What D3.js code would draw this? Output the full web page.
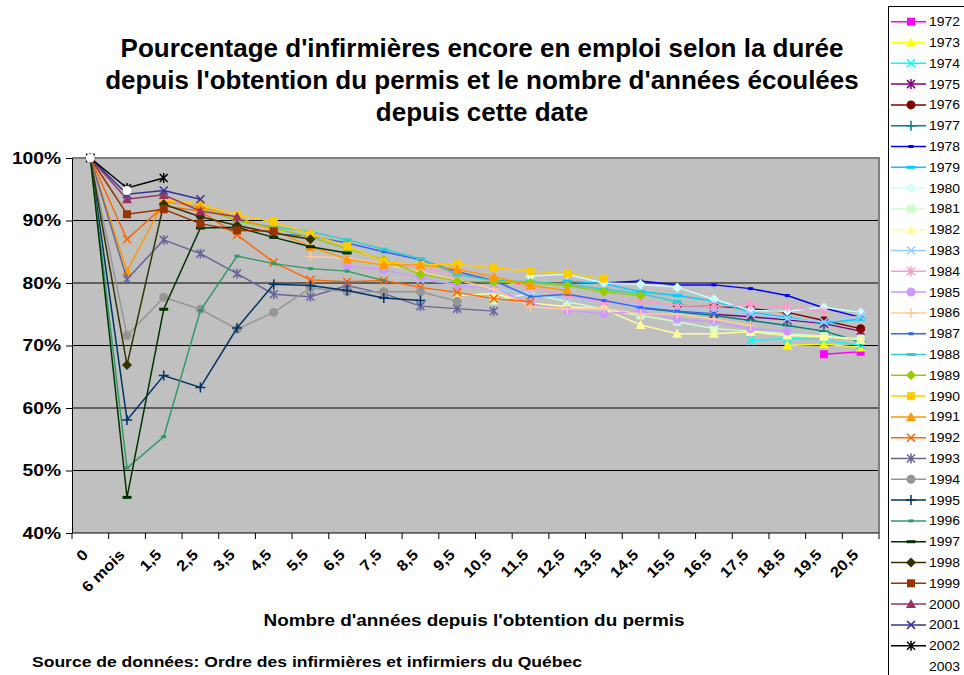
<!DOCTYPE html>
<html>
<head>
<meta charset="UTF-8">
<title>Infirmières encore en emploi</title>
<script src="https://d3js.org/d3.v7.min.js"></script>
<style>
body { margin: 0; background: #fff; }
svg { font-family: "Liberation Sans", Arial, sans-serif; }
</style>
</head>
<body>
<svg width="964" height="675"></svg>
<script>
// categories on the x axis
var categories = ["0", "6 mois", "1,5", "2,5", "3,5", "4,5", "5,5", "6,5", "7,5", "8,5", "9,5",
  "10,5", "11,5", "12,5", "13,5", "14,5", "15,5", "16,5", "17,5", "18,5", "19,5", "20,5"];
var yTicks = [40, 50, 60, 70, 80, 90, 100];

var years = [1972, 1973, 1974, 1975, 1976, 1977, 1978, 1979, 1980, 1981, 1982, 1983, 1984, 1985, 1986, 1987,
  1988, 1989, 1990, 1991, 1992, 1993, 1994, 1995, 1996, 1997, 1998, 1999, 2000, 2001, 2002, 2003];

// index of the first category each cohort has a value for
var firstIndex = [20, 19, 18, 17, 16, 15, 14, 13, 12, 11, 10, 9, 8, 7, 6, 5,
  4, 3, 2, 0, 0, 0, 0, 0, 0, 0, 0, 0, 0, 0, 0, 0];

// % still employed, one array per cohort (starting at firstIndex)
var s1972 = [68.6, 69.0];
var s1973 = [70.0, 70.2, 69.7];
var s1974 = [70.8, 71.1, 70.9, 70.0];
var s1975 = [75.0, 74.6, 74.1, 73.5, 72.3];
var s1976 = [76.4, 76.3, 75.9, 75.3, 74.0, 72.7];
var s1977 = [76.0, 75.4, 74.8, 74.0, 73.2, 72.3, 70.6];
var s1978 = [80.0, 80.3, 79.7, 79.7, 79.1, 78.0, 76.0, 74.5];
var s1979 = [80.3, 79.9, 78.6, 78.0, 77.1, 75.3, 74.5, 73.6, 74.2];
var s1980 = [81.1, 81.4, 80.0, 79.8, 79.3, 77.4, 75.6, 75.5, 76.1, 75.3];
var s1981 = [77.2, 78.3, 77.0, 75.8, 74.8, 73.8, 72.7, 72.3, 71.9, 71.5, 71.1];
var s1982 = [78.0, 78.3, 76.8, 76.2, 75.8, 73.3, 71.9, 71.9, 72.2, 71.6, 71.4, 70.9];
var s1983 = [80.5, 79.8, 79.0, 78.3, 77.5, 77.0, 76.5, 76.0, 75.7, 75.1, 74.3, 73.8, 74.7];
var s1984 = [83.5, 82.3, 81.5, 80.6, 79.3, 78.0, 76.9, 77.1, 76.4, 76.3, 76.5, 76.2, 75.4];
var s1985 = [82.7, 82.1, 80.9, 79.6, 79.1, 76.7, 75.6, 75.1, 75.5, 74.2, 73.8, 72.7, 72.3];
var s1986 = [84.2, 84.0, 83.0, 81.8, 80.5, 79.0, 76.2, 75.8, 75.9, 75.1, 75.0, 74.2, 73.2];
var s1987 = [87.9, 87.5, 86.4, 85.0, 83.7, 81.8, 80.4, 77.8, 78.2, 77.2, 76.1, 75.5, 75.1];
var s1988 = [89.9, 89.0, 88.2, 86.9, 85.4, 83.9, 81.3, 80.4, 80.2, 79.8, 79.0, 78.3, 77.0];
var s1989 = [92.0, 90.0, 88.8, 87.3, 85.5, 83.7, 81.4, 80.3, 80.2, 80.0, 79.6, 78.6, 78.0];
var s1990 = [93.4, 92.6, 90.9, 89.8, 87.8, 85.9, 83.4, 82.9, 83.0, 82.4, 81.9, 81.5, 80.7];
var s1991 = [100, 81.9, 93.0, 92.2, 90.5, 88.5, 85.8, 83.8, 82.9, 82.9, 82.2, 81.0, 79.6, 78.8];
var s1992 = [100, 87.0, 92.3, 91.5, 87.7, 83.3, 80.5, 80.2, 80.4, 79.3, 78.5, 77.5, 77.0];
var s1993 = [100, 80.6, 86.9, 84.7, 81.5, 78.2, 77.8, 79.6, 78.3, 76.3, 75.9, 75.5];
var s1994 = [100, 71.6, 77.7, 75.8, 72.6, 75.3, 79.2, 78.6, 78.6, 78.6, 77.1];
var s1995 = [100, 58.1, 65.2, 63.3, 72.8, 79.8, 79.6, 78.8, 77.6, 77.2];
var s1996 = [100, 50.4, 55.4, 75.6, 84.3, 83.1, 82.3, 81.9, 80.4];
var s1997 = [100, 45.7, 75.8, 88.8, 88.9, 87.3, 85.8, 84.8];
var s1998 = [100, 66.9, 92.6, 90.6, 89.2, 88.0, 87.0];
var s1999 = [100, 91.0, 91.8, 89.5, 88.4, 88.3];
var s2000 = [100, 93.4, 94.1, 91.5, 90.6];
var s2001 = [100, 94.2, 94.8, 93.4];
var s2002 = [100, 95.2, 96.8];
var s2003 = [100, 94.8];

var seriesValues = [s1972, s1973, s1974, s1975, s1976, s1977, s1978, s1979, s1980, s1981, s1982,
  s1983, s1984, s1985, s1986, s1987, s1988, s1989, s1990, s1991, s1992, s1993, s1994, s1995,
  s1996, s1997, s1998, s1999, s2000, s2001, s2002, s2003];

var colors = ["#FF00FF", "#FFFF00", "#00FFFF", "#800080", "#800000", "#008080", "#0000FF", "#00CCFF",
  "#CCFFFF", "#CCFFCC", "#FFFF99", "#99CCFF", "#FF99CC", "#CC99FF", "#FFCC99", "#3366FF",
  "#33CCCC", "#99CC00", "#FFCC00", "#FF9900", "#FF6600", "#666699", "#969696", "#003366",
  "#339966", "#003300", "#333300", "#993300", "#993366", "#333399", "#000000", "#FFFFFF"];
var markerCycle = ["square", "triangle", "x", "star", "circle", "plus", "smalldash", "dash", "diamond"];

var svg = d3.select("svg");
var plotL = 72, plotR = 879, plotT = 158, plotB = 533;

var x = d3.scaleBand().domain(categories).range([plotL, plotR]);
var y = d3.scaleLinear().domain([40, 100]).range([plotB, plotT]);
var cx = function(i) { return x(categories[i]) + x.bandwidth() / 2; };

// widen text horizontally (the reference lettering is stretched)
function stretch(sel, factor) {
  sel.each(function() {
    var w = this.getComputedTextLength();
    d3.select(this).attr("textLength", w * factor).attr("lengthAdjust", "spacingAndGlyphs");
  });
}

// title
var title = ["Pourcentage d'infirmières encore en emploi selon la durée",
  "depuis l'obtention du permis et le nombre d'années écoulées",
  "depuis cette date"];
svg.append("g").selectAll("text").data(title).enter().append("text")
  .attr("x", 482).attr("y", function(d, i) { return 57 + i * 32; })
  .attr("text-anchor", "middle").style("font-size", "26px").style("font-weight", "bold")
  .text(function(d) { return d; });

// plot area
svg.append("rect").attr("x", plotL).attr("y", plotT).attr("width", plotR - plotL).attr("height", plotB - plotT)
  .attr("fill", "#C0C0C0");
svg.append("g").selectAll("line").data(yTicks.slice(1, -1)).enter().append("line")
  .attr("x1", plotL).attr("x2", plotR).attr("y1", y).attr("y2", y)
  .attr("stroke", "#000").attr("stroke-width", 1);
svg.append("path").attr("d", "M" + plotL + "," + plotT + "H" + plotR + "V" + plotB)
  .attr("fill", "none").attr("stroke", "#808080").attr("stroke-width", 2);

// y axis
var yAxis = svg.append("g").attr("transform", "translate(" + plotL + ",0)")
  .call(d3.axisLeft(y).tickValues(yTicks).tickFormat(function(d) { return d + "%"; }).tickSize(6).tickSizeOuter(0));
yAxis.select(".domain").attr("stroke", "#000");
yAxis.selectAll("text").style("font-size", "16px").style("font-weight", "bold").attr("fill", "#000").attr("x", -11);
stretch(yAxis.selectAll("text"), 1.2);

// x axis
svg.append("line").attr("x1", plotL).attr("x2", plotR).attr("y1", plotB).attr("y2", plotB).attr("stroke", "#000");
var bounds = categories.map(function(c) { return x(c); }).concat([plotR]);
svg.append("g").selectAll("line").data(bounds).enter().append("line")
  .attr("x1", function(d) { return d; }).attr("x2", function(d) { return d; })
  .attr("y1", plotB).attr("y2", plotB + 6).attr("stroke", "#000");
var xLabels = svg.append("g").selectAll("text").data(categories).enter().append("text")
  .attr("transform", function(d, i) { return "translate(" + (cx(i) - 5) + "," + (plotB + 19) + ") rotate(-45)"; })
  .attr("text-anchor", "end").attr("dy", "0.35em")
  .style("font-size", "15px").style("font-weight", "bold")
  .text(function(d) { return d; });
stretch(xLabels, 1.12);

var xTitle = svg.append("text").attr("x", 474).attr("y", 626).attr("text-anchor", "middle")
  .style("font-size", "17px").style("font-weight", "bold")
  .text("Nombre d'années depuis l'obtention du permis");
xTitle.attr("textLength", 421).attr("lengthAdjust", "spacingAndGlyphs");
var source = svg.append("text").attr("x", 32).attr("y", 667)
  .style("font-size", "15px").style("font-weight", "bold")
  .text("Source de données: Ordre des infirmières et infirmiers du Québec");
source.attr("textLength", 550).attr("lengthAdjust", "spacingAndGlyphs");

// marker drawing
function drawMarker(g, type, color, px, py) {
  var s = 4;
  if (type === "square") {
    g.append("rect").attr("x", px - s).attr("y", py - s).attr("width", 2 * s).attr("height", 2 * s).attr("fill", color);
  } else if (type === "triangle") {
    g.append("path").attr("d", "M" + px + "," + (py - s - 1) + "L" + (px + s + 1) + "," + (py + s) + "L" + (px - s - 1) + "," + (py + s) + "Z").attr("fill", color);
  } else if (type === "diamond") {
    g.append("path").attr("d", "M" + px + "," + (py - s - 1) + "L" + (px + s + 1) + "," + py + "L" + px + "," + (py + s + 1) + "L" + (px - s - 1) + "," + py + "Z").attr("fill", color);
  } else if (type === "circle") {
    g.append("circle").attr("cx", px).attr("cy", py).attr("r", s + 0.5).attr("fill", color);
  } else if (type === "x") {
    g.append("path").attr("d", "M" + (px - s) + "," + (py - s) + "L" + (px + s) + "," + (py + s) + "M" + (px + s) + "," + (py - s) + "L" + (px - s) + "," + (py + s))
      .attr("stroke", color).attr("stroke-width", 1.5).attr("fill", "none");
  } else if (type === "star") {
    g.append("path").attr("d", "M" + (px - s) + "," + (py - s) + "L" + (px + s) + "," + (py + s) + "M" + (px + s) + "," + (py - s) + "L" + (px - s) + "," + (py + s) + "M" + px + "," + (py - s - 1) + "V" + (py + s + 1))
      .attr("stroke", color).attr("stroke-width", 1.5).attr("fill", "none");
  } else if (type === "plus") {
    g.append("path").attr("d", "M" + (px - s - 1) + "," + py + "H" + (px + s + 1) + "M" + px + "," + (py - s - 1) + "V" + (py + s + 1))
      .attr("stroke", color).attr("stroke-width", 1.5).attr("fill", "none");
  } else if (type === "smalldash") {
    g.append("rect").attr("x", px - 2.5).attr("y", py - 1.5).attr("width", 5).attr("height", 3).attr("fill", color);
  } else if (type === "dash") {
    g.append("rect").attr("x", px - 4.5).attr("y", py - 1.5).attr("width", 9).attr("height", 3).attr("fill", color);
  }
}

var line = d3.line().x(function(d) { return cx(d.i); }).y(function(d) { return y(d.v); });

years.forEach(function(yr, k) {
  var pts = seriesValues[k].map(function(v, j) { return { i: firstIndex[k] + j, v: v }; });
  var g = svg.append("g").attr("class", "series");
  if (yr !== 2003) {
    g.append("path").datum(pts).attr("d", line).attr("fill", "none")
      .attr("stroke", colors[k]).attr("stroke-width", 1.5);
  }
  var type = markerCycle[k % markerCycle.length];
  pts.forEach(function(p) { drawMarker(g, type, colors[k], cx(p.i), y(p.v)); });
});

// legend
var lg = svg.append("g");
lg.append("rect").attr("x", 888.5).attr("y", 6.5).attr("width", 80).attr("height", 680)
  .attr("fill", "#fff").attr("stroke", "#000").attr("stroke-width", 1);
years.forEach(function(yr, k) {
  var ly = 21.7 + k * 20.8;
  var type = markerCycle[k % markerCycle.length];
  if (yr !== 2003) {
    lg.append("line").attr("x1", 891).attr("x2", 926).attr("y1", ly).attr("y2", ly)
      .attr("stroke", colors[k]).attr("stroke-width", 1.5);
  }
  drawMarker(lg, type, colors[k], 911, ly);
  lg.append("text").attr("x", 929).attr("y", ly).attr("dy", "0.35em")
    .style("font-size", "13px").attr("textLength", 31).attr("lengthAdjust", "spacingAndGlyphs").text(yr);
});
</script>
</body>
</html>
